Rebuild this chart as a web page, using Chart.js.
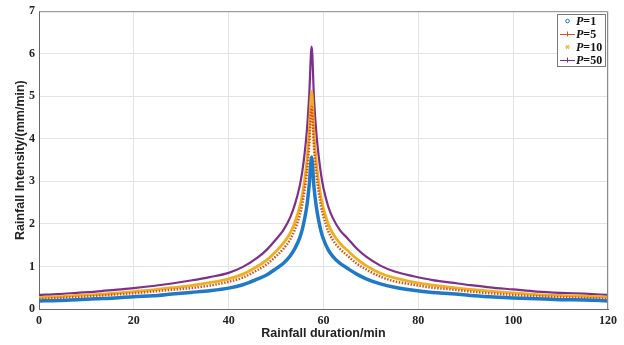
<!DOCTYPE html>
<html>
<head>
<meta charset="utf-8">
<script src="https://cdn.jsdelivr.net/npm/chart.js@4"></script>
<style>
  html, body { margin: 0; padding: 0; background: #fff; }
  #wrap { width: 624px; height: 345px; }
</style>
</head>
<body>
<div id="wrap"><canvas id="stormChart" width="624" height="345"></canvas></div>
<script>
// time axis, min
const durations = [0, 4, 8, 12, 16, 20, 24, 28, 32, 36, 40, 43, 46, 48, 50, 51.5, 53, 54, 55, 55.5, 56, 56.5, 57, 57.5,
    58, 58.5, 59, 59.5, 60, 61, 62, 63.5, 65, 67, 69, 72, 75, 79, 83, 87, 91, 95, 100, 105, 110, 115, 120];

// intensity, mm/min
const p1 = [0.19, 0.20, 0.22, 0.24, 0.26, 0.29, 0.31, 0.35, 0.39, 0.43, 0.49, 0.57, 0.70, 0.80, 0.95, 1.07, 1.25, 1.43, 1.68, 1.86, 2.11, 2.43, 2.93, 3.57,
    2.86, 2.39, 2.07, 1.82, 1.64, 1.39, 1.23, 1.07, 0.96, 0.82, 0.71, 0.59, 0.51, 0.44, 0.39, 0.36, 0.32, 0.29, 0.26, 0.24, 0.22, 0.21, 0.19];
const p5 = [0.23, 0.26, 0.28, 0.31, 0.34, 0.37, 0.41, 0.45, 0.49, 0.55, 0.64, 0.74, 0.91, 1.05, 1.24, 1.41, 1.64, 1.88, 2.21, 2.45, 2.78, 3.21, 3.88, 4.75,
    3.78, 3.16, 2.74, 2.40, 2.17, 1.83, 1.62, 1.41, 1.26, 1.07, 0.93, 0.76, 0.65, 0.57, 0.50, 0.46, 0.41, 0.37, 0.33, 0.30, 0.28, 0.26, 0.24];
const p10 = [0.27, 0.29, 0.32, 0.34, 0.37, 0.41, 0.45, 0.50, 0.55, 0.62, 0.71, 0.82, 1.00, 1.15, 1.36, 1.54, 1.79, 2.05, 2.41, 2.66, 3.02, 3.48, 4.20, 5.12,
    4.10, 3.43, 2.97, 2.61, 2.36, 2.00, 1.77, 1.54, 1.38, 1.18, 1.02, 0.84, 0.73, 0.63, 0.56, 0.51, 0.46, 0.42, 0.38, 0.34, 0.32, 0.30, 0.28];
const p50 = [0.33, 0.35, 0.38, 0.41, 0.45, 0.49, 0.54, 0.60, 0.67, 0.75, 0.85, 0.99, 1.20, 1.39, 1.64, 1.85, 2.16, 2.47, 2.90, 3.21, 3.64, 4.20, 5.06, 6.17,
    4.94, 4.13, 3.58, 3.15, 2.84, 2.41, 2.13, 1.85, 1.67, 1.42, 1.23, 1.02, 0.88, 0.77, 0.68, 0.62, 0.56, 0.51, 0.46, 0.41, 0.38, 0.36, 0.33];

const seriesNames = ["1", "5", "10", "50"];
const seriesValues = [p1, p5, p10, p50];
const seriesColors = ["#2079c7", "#d95319", "#edb120", "#7e2f8e"];
const seriesWidths = [3.5, 2.5, 2.8, 2.2];
const seriesDash = [[], [1.5, 1.5], [], []];

const xTicks = [0, 20, 40, 60, 80, 100, 120];
const yTicks = [0, 1, 2, 3, 4, 5, 6, 7];

const tickFont = { family: "'Liberation Serif', 'Times New Roman', serif", size: 12, weight: "bold" };
const titleFont = { family: "'Liberation Sans', Arial, sans-serif", size: 12.5, weight: "bold" };

const datasets = seriesValues.map((vals, i) => ({
    label: "P=" + seriesNames[i],
    data: durations.map((t, k) => ({ x: t, y: vals[k] })),
    borderColor: seriesColors[i],
    backgroundColor: seriesColors[i],
    borderWidth: seriesWidths[i],
    borderDash: seriesDash[i],
    pointRadius: 0,
    cubicInterpolationMode: "monotone",
    fill: false
}));

// box round the plot and MATLAB-like legend
const boxAndLegend = {
    id: "boxAndLegend",
    afterDraw(chart) {
        const { ctx, chartArea: a } = chart;
        ctx.save();
        ctx.strokeStyle = "#8a8a8a";
        ctx.lineWidth = 1;
        ctx.beginPath();
        ctx.moveTo(a.left, a.top + 0.5);
        ctx.lineTo(a.right - 0.5, a.top + 0.5);
        ctx.lineTo(a.right - 0.5, a.bottom);
        ctx.stroke();

        const bx = 557, by = 14, bw = 48, bh = 52;
        ctx.fillStyle = "#fff";
        ctx.fillRect(bx, by, bw, bh);
        ctx.strokeStyle = "#7a7a7a";
        ctx.strokeRect(bx + 0.5, by + 0.5, bw, bh);

        const rowY = [21, 34, 47, 60];
        seriesNames.forEach((name, i) => {
            const y = rowY[i];
            const c = seriesColors[i];
            ctx.strokeStyle = c;
            ctx.fillStyle = c;
            ctx.lineWidth = 1;
            if (i === 1 || i === 3) {
                ctx.beginPath();
                ctx.moveTo(560, y + 0.5);
                ctx.lineTo(575, y + 0.5);
                ctx.stroke();
            }
            // marker
            ctx.beginPath();
            if (i === 0) {
                ctx.arc(567.5, y, 1.8, 0, Math.PI * 2);
                ctx.stroke();
            } else if (i === 2) {
                for (let k = 0; k < 3; k++) {
                    const ang = k * Math.PI / 3;
                    ctx.moveTo(567.5 - 2.5 * Math.cos(ang), y - 2.5 * Math.sin(ang));
                    ctx.lineTo(567.5 + 2.5 * Math.cos(ang), y + 2.5 * Math.sin(ang));
                }
                ctx.stroke();
            } else {
                ctx.moveTo(567.5, y - 2.5);
                ctx.lineTo(567.5, y + 2.5);
                ctx.stroke();
            }
            // label: italic P then =n
            ctx.fillStyle = "#111";
            ctx.textBaseline = "middle";
            ctx.textAlign = "left";
            ctx.font = "italic bold 12px 'Liberation Serif', 'Times New Roman', serif";
            ctx.fillText("P", 576, y + 0.5);
            const w = ctx.measureText("P").width;
            ctx.font = "bold 12px 'Liberation Serif', 'Times New Roman', serif";
            ctx.fillText("=" + name, 576 + w, y + 0.5);
        });
        ctx.restore();
    }
};

new Chart(document.getElementById("stormChart").getContext("2d"), {
    type: "line",
    data: { datasets: datasets },
    plugins: [boxAndLegend],
    options: {
        responsive: false,
        animation: false,
        events: [],
        layout: { padding: { top: 10, right: 16, left: 0, bottom: 0 } },
        plugins: {
            legend: { display: false },
            tooltip: { enabled: false },
            title: { display: false }
        },
        scales: {
            x: {
                type: "linear",
                min: 0,
                max: 120,
                afterFit: s => { s.height = 36; },
                afterBuildTicks: s => { s.ticks = xTicks.map(v => ({ value: v })); },
                grid: { color: "#e4e4e4", drawTicks: false },
                border: { color: "#6a6a6a", width: 1 },
                ticks: { font: tickFont, color: "#222", padding: 5, maxRotation: 0 },
                title: {
                    display: true,
                    text: "Rainfall duration/min",
                    font: titleFont,
                    color: "#222",
                    padding: { top: 0, bottom: 4 }
                }
            },
            y: {
                min: 0,
                max: 7,
                afterFit: s => { s.width = 39; },
                afterBuildTicks: s => { s.ticks = yTicks.map(v => ({ value: v })); },
                grid: { color: "#e4e4e4", drawTicks: false },
                border: { color: "#6a6a6a", width: 1 },
                ticks: { font: tickFont, color: "#222", padding: 4 },
                title: {
                    display: true,
                    text: "Rainfall Intensity/(mm/min)",
                    font: titleFont,
                    color: "#222",
                    padding: { top: 13, bottom: 0 }
                }
            }
        }
    }
});
</script>
</body>
</html>
